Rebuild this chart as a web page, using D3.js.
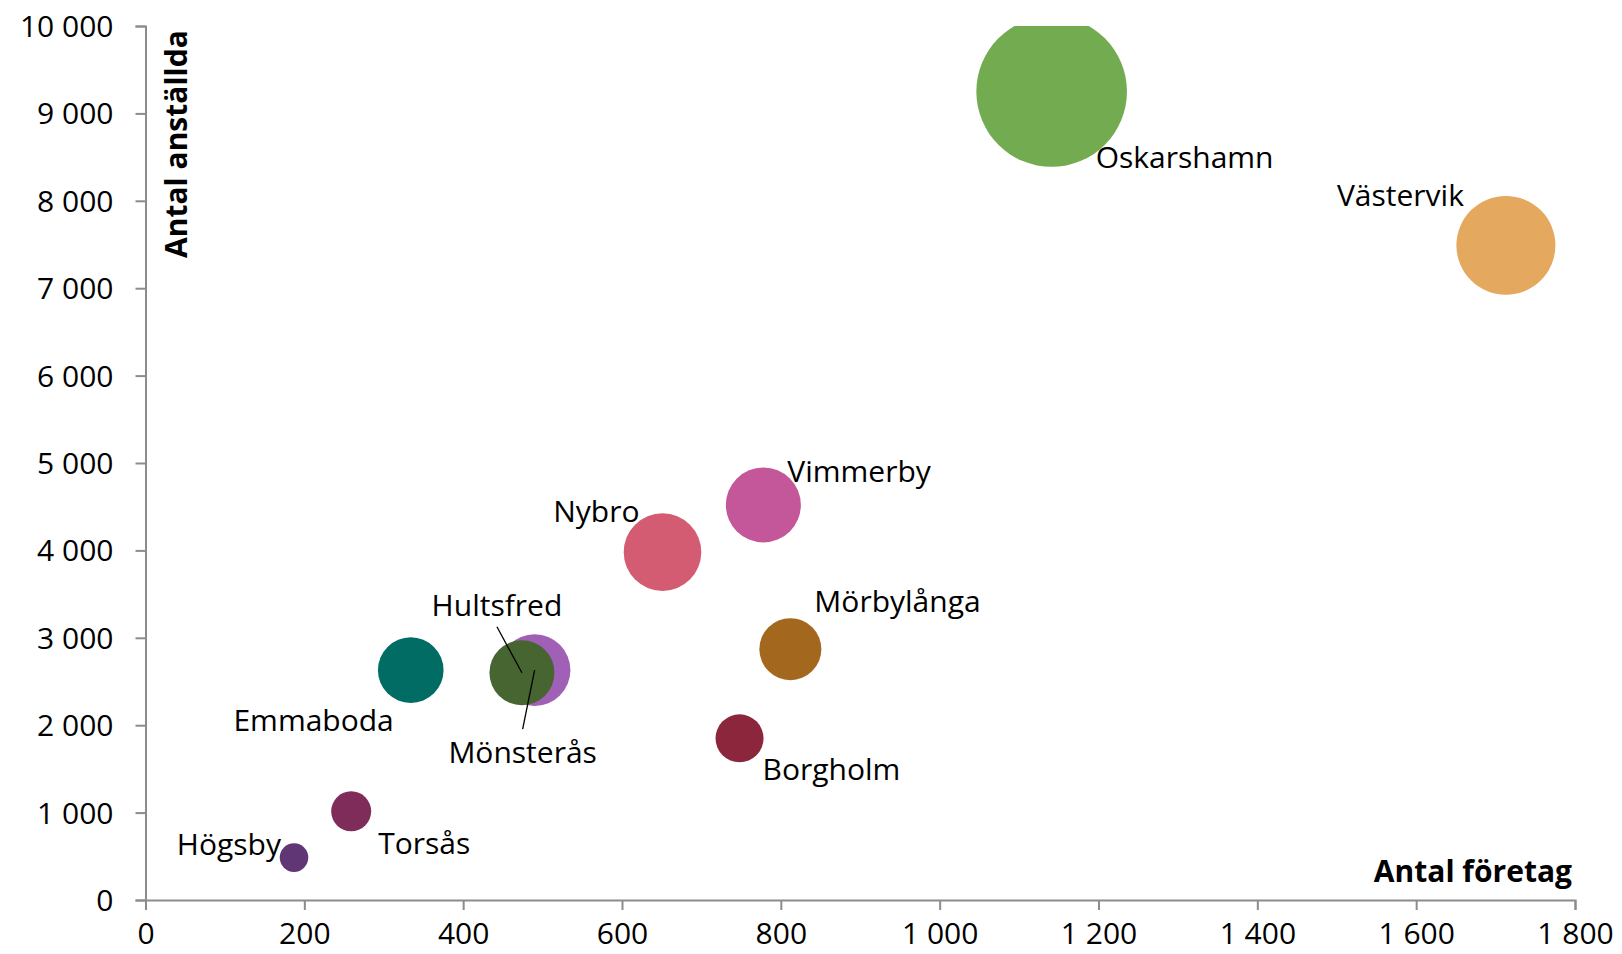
<!DOCTYPE html>
<html>
<head>
<meta charset="utf-8">
<script src="https://cdn.jsdelivr.net/npm/d3@7"></script>
<style>
    body { margin: 0; background: #fff; }
    svg text { font-family: "Open Sans", sans-serif; fill: #000; }
</style>
</head>
<body>
<svg id="chart" width="1622" height="954"></svg>
<script>
// kommuner, antal företag (x), antal anställda (y), bubbelstorlek
let kommuner = ['Mönsterås', 'Oskarshamn', 'Västervik', 'Vimmerby', 'Nybro', 'Mörbylånga', 'Borgholm', 'Emmaboda', 'Hultsfred', 'Torsås', 'Högsby'];
let foretag = [490, 1141, 1713, 778, 651, 812, 748, 334, 474, 259, 187];
let anstallda = [2630, 9250, 7490, 4520, 3980, 2870, 1850, 2630, 2600, 1015, 485];
let storlek = [1280, 5670, 2450, 1406, 1505, 961, 576, 1076, 1056, 400, 204];
let farger = ['#a060b5', '#73ab51', '#e5a85f', '#c45799', '#d45c72', '#a4671e', '#8c263c', '#006c64', '#466530', '#7f2c5a', '#603675'];
let xTicks = [0, 200, 400, 600, 800, 1000, 1200, 1400, 1600, 1800];
let yTicks = [0, 1000, 2000, 3000, 4000, 5000, 6000, 7000, 8000, 9000, 10000];

// etikettplacering (px från bubbelns mitt)
let labelPos = {
    'Oskarshamn': [44, 76, 'start'],
    'Västervik': [-42, -39, 'end'],
    'Vimmerby': [24, -23, 'start'],
    'Nybro': [-23, -30, 'end'],
    'Mörbylånga': [24, -37, 'start'],
    'Borgholm': [23, 42, 'start'],
    'Emmaboda': [-17, 61, 'end'],
    'Hultsfred': [-25, -57, 'middle'],
    'Mönsterås': [-12, 93, 'middle'],
    'Torsås': [27, 43, 'start'],
    'Högsby': [-13, -3, 'end']
};
// ledarlinjer: [start dx, start dy, slut dx, slut dy]
let leaders = {
    'Hultsfred': [-25, -46, 0, 0],
    'Mönsterås': [0, 0, -12, 59]
};

function init() {
    let svg = d3.select('#chart');
    let left = 145.5, right = 1575, top = 26, bottom = 900;
    let axisColor = '#8c8c8c';

    let x = d3.scaleLinear().domain([0, 1800]).range([left, right]);
    let y = d3.scaleLinear().domain([0, 10000]).range([bottom, top]);
    let r = d3.scaleSqrt().domain([0, d3.max(storlek)]).range([0, 75.3]);

    let sv = d3.formatLocale({ decimal: ',', thousands: '\u00a0', grouping: [3], currency: ['', ' kr'] });
    let fmt = sv.format(',d');

    svg.append('clipPath').attr('id', 'plot')
        .append('rect')
        .attr('x', left)
        .attr('y', top)
        .attr('width', right - left + 60)
        .attr('height', bottom - top);

    // axlar
    let xAxis = svg.append('g').attr('transform', `translate(0, ${bottom})`)
        .call(d3.axisBottom(x).tickValues(xTicks).tickFormat(fmt).tickSizeOuter(0).tickSize(10).tickPadding(13));
    let yAxis = svg.append('g').attr('transform', `translate(${left}, 0)`)
        .call(d3.axisLeft(y).tickValues(yTicks).tickFormat(fmt).tickSizeOuter(0).tickSize(10).tickPadding(22));
    [xAxis, yAxis].forEach(a => {
        a.select('.domain').attr('stroke', axisColor).attr('stroke-width', 2);
        a.selectAll('.tick line').attr('stroke', axisColor).attr('stroke-width', 2);
        a.selectAll('.tick text').style('font-size', '30px').attr('fill', '#000');
    });
    yAxis.selectAll('.tick text').attr('dy', '0.35em');

    let data = kommuner.map((k, i) => ({ namn: k, x: foretag[i], y: anstallda[i], s: storlek[i], c: farger[i] }));

    svg.append('g').attr('clip-path', 'url(#plot)')
        .selectAll('circle').data(data).join('circle')
        .attr('cx', d => x(d.x))
        .attr('cy', d => y(d.y))
        .attr('r', d => r(d.s))
        .style('fill', d => d.c);

    svg.append('g').selectAll('line').data(data.filter(d => leaders[d.namn])).join('line')
        .attr('x1', d => x(d.x) + leaders[d.namn][0])
        .attr('y1', d => y(d.y) + leaders[d.namn][1])
        .attr('x2', d => x(d.x) + leaders[d.namn][2])
        .attr('y2', d => y(d.y) + leaders[d.namn][3])
        .attr('stroke', '#000')
        .attr('stroke-width', 1.3);

    svg.append('g').selectAll('text').data(data).join('text')
        .attr('x', d => x(d.x) + labelPos[d.namn][0])
        .attr('y', d => y(d.y) + labelPos[d.namn][1])
        .attr('text-anchor', d => labelPos[d.namn][2])
        .style('font-size', '30px')
        .text(d => d.namn);

    // axeltitlar
    svg.append('text')
        .attr('transform', 'translate(187, 258) rotate(-90)')
        .style('font-size', '30px')
        .style('font-weight', 700)
        .text('Antal anställda');
    svg.append('text')
        .attr('x', 1572)
        .attr('y', 882)
        .attr('text-anchor', 'end')
        .style('font-size', '30px')
        .style('font-weight', 700)
        .text('Antal företag');
}

init();
</script>
</body>
</html>
